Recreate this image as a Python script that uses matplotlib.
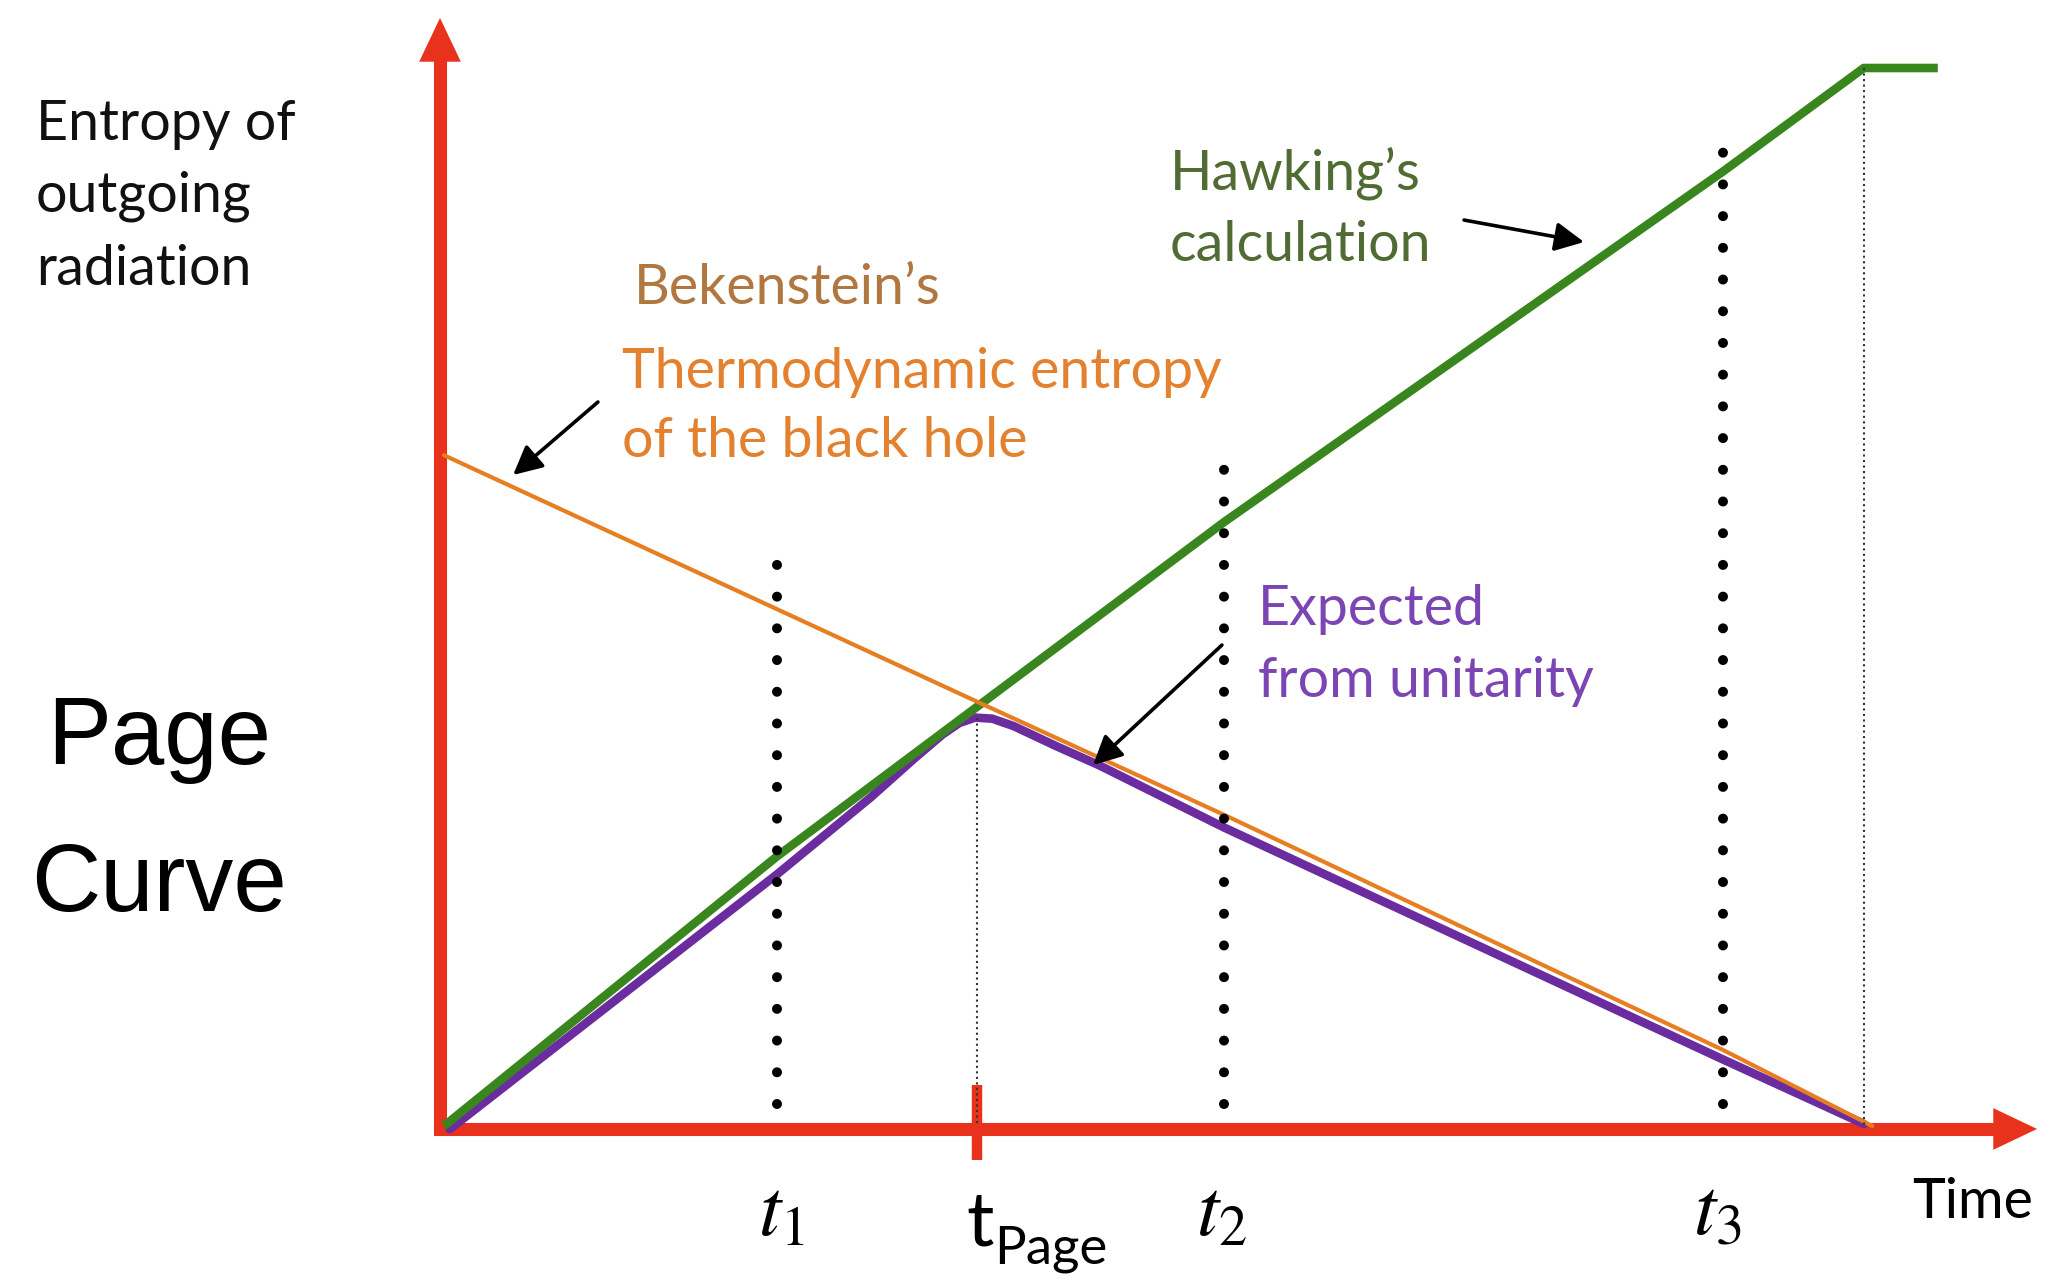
"""Page curve: entropy of Hawking radiation vs. time for an evaporating black hole."""

import matplotlib

matplotlib.use("Agg")
import matplotlib.pyplot as plt

# Time in units of the evaporation time, entropy in units of Hawking's final value.
hawking_t = [0.0, 0.234, 0.548, 0.898, 0.997, 1.049]
hawking_s = [0.0, 0.255, 0.571, 0.902, 1.0, 1.0]

bekenstein_t = [0.0, 0.368, 0.548, 0.898, 1.003]
bekenstein_s = [0.634, 0.405, 0.294, 0.072, 0.0]

page_t = [0.004, 0.234, 0.300, 0.330, 0.350, 0.362, 0.373, 0.385, 0.400,
          0.430, 0.460, 0.548, 0.898, 0.997]
page_s = [-0.003, 0.238, 0.311, 0.347, 0.370, 0.381, 0.386, 0.385, 0.378,
          0.359, 0.341, 0.282, 0.063, 0.002]

t_page = 0.374
t_evap = 0.997
sample_times = [0.234, 0.548, 0.898]
sample_tops = [0.543, 0.632, 0.937]
sample_labels = [r"$t_1$", r"$t_2$", r"$t_3$"]
label_shift = [0.003, -0.002, -0.004]

RED = "#E8321C"
GREEN = "#3A861E"
PURPLE = "#6A2C9E"
ORANGE = "#E67E22"

plt.rcParams["mathtext.fontset"] = "stix"

fig = plt.figure(figsize=(20.49, 12.83), dpi=100)
ax = fig.add_axes([0, 0, 1, 1])
ax.set_xlim(-444 / 1424, (2049 - 444) / 1424)
ax.set_ylim((1126 - 1283) / 1058, 1126 / 1058)
ax.axis("off")

# axes drawn as arrows
axis_t = -0.0028
axis_s = -0.0028
ax.plot([axis_t, axis_t, 1.092], [1.010, axis_s, axis_s], color=RED, lw=9.4,
        solid_joinstyle="miter", solid_capstyle="butt", zorder=1)
head = dict(arrowstyle="-|>,head_length=1.05,head_width=0.5", mutation_scale=30,
            lw=0, color=RED, shrinkA=0, shrinkB=0)
ax.annotate("", xy=(axis_t, 1.0473), xytext=(axis_t, 0.98), arrowprops=head, zorder=1)
ax.annotate("", xy=(1.1187, axis_s), xytext=(1.06, axis_s), arrowprops=head, zorder=1)
ax.plot([t_page, t_page], [0.0388, -0.0321], color=RED, lw=7.5, solid_capstyle="butt", zorder=1)

# the three curves
ax.plot(page_t, page_s, color=PURPLE, lw=6.2, solid_joinstyle="round",
        solid_capstyle="round", zorder=2)
ax.plot(hawking_t, hawking_s, color=GREEN, lw=6.2, solid_joinstyle="round",
        solid_capstyle="butt", zorder=3)
ax.plot(bekenstein_t, bekenstein_s, color=ORANGE, lw=3.0, solid_capstyle="round", zorder=4)

# fine dotted guides at the Page time and at evaporation
ax.plot([t_page, t_page], [max(page_s), 0.0], color="#333333", lw=1.5, ls=":", zorder=5)
ax.plot([t_evap, t_evap], [max(hawking_s), 0.0], color="#333333", lw=1.5, ls=":", zorder=5)

# heavy dotted sample times
for t, top, lab, dx in zip(sample_times, sample_tops, sample_labels, label_shift):
    ax.plot([t, t], [0.021, top], color="black", lw=7.2, ls=(0, (0.001, 3.17)),
            dash_capstyle="round", zorder=6)
    ax.text(t + dx, -0.103, lab, fontsize=58, ha="center", va="baseline", color="black")

ax.text(t_page - 0.007, -0.1125, "t", fontsize=55, family="Lato", ha="left",
        va="baseline", color="black")
ax.text(t_page + 0.012, -0.1295, "Page", fontsize=38, family="Lato", ha="left",
        va="baseline", color="black")
ax.text(1.0309, -0.087, "Time", fontsize=40, family="Lato", ha="left", va="baseline")

# annotation arrows
pointer = dict(arrowstyle="-|>,head_length=0.8,head_width=0.4", mutation_scale=22,
               lw=2.6, color="black", shrinkA=0, shrinkB=0)
ax.annotate("", xy=(0.0485, 0.6153), xytext=(0.1081, 0.6843), arrowprops=pointer, zorder=7)
ax.annotate("", xy=(0.8006, 0.8355), xytext=(0.7163, 0.8563), arrowprops=pointer, zorder=7)
ax.annotate("", xy=(0.4558, 0.3412), xytext=(0.5463, 0.4546), arrowprops=pointer, zorder=7)

# labels
label_font = dict(family="Lato", fontsize=40, ha="left", va="baseline")
for s, line in zip([0.9319, 0.8639, 0.7949], ["Entropy of", "outgoing", "radiation"]):
    ax.text(-0.2865, s, line, color="#111111", **label_font)

ax.text(0.1334, 0.7769, "Bekenstein\u2019s", color="#B07840", **label_font)
ax.text(0.125, 0.6975, "Thermodynamic entropy", color="#E3812F", **label_font)
ax.text(0.125, 0.6323, "of the black hole", color="#E3812F", **label_font)
ax.text(0.5098, 0.8856, "Hawking\u2019s", color="#506B33", **label_font)
ax.text(0.5098, 0.8176, "calculation", color="#506B33", **label_font)
ax.text(0.5716, 0.4735, "Expected", color="#7B45B3", **label_font)
ax.text(0.5716, 0.4055, "from unitarity", color="#7B45B3", **label_font)

big = dict(family="Liberation Sans", fontsize=69, ha="center", va="baseline", color="black")
ax.text(-0.2001, 0.3422, "Page", **big)
ax.text(-0.2001, 0.2032, "Curve", **big)

fig.savefig("out.png", dpi=100)
